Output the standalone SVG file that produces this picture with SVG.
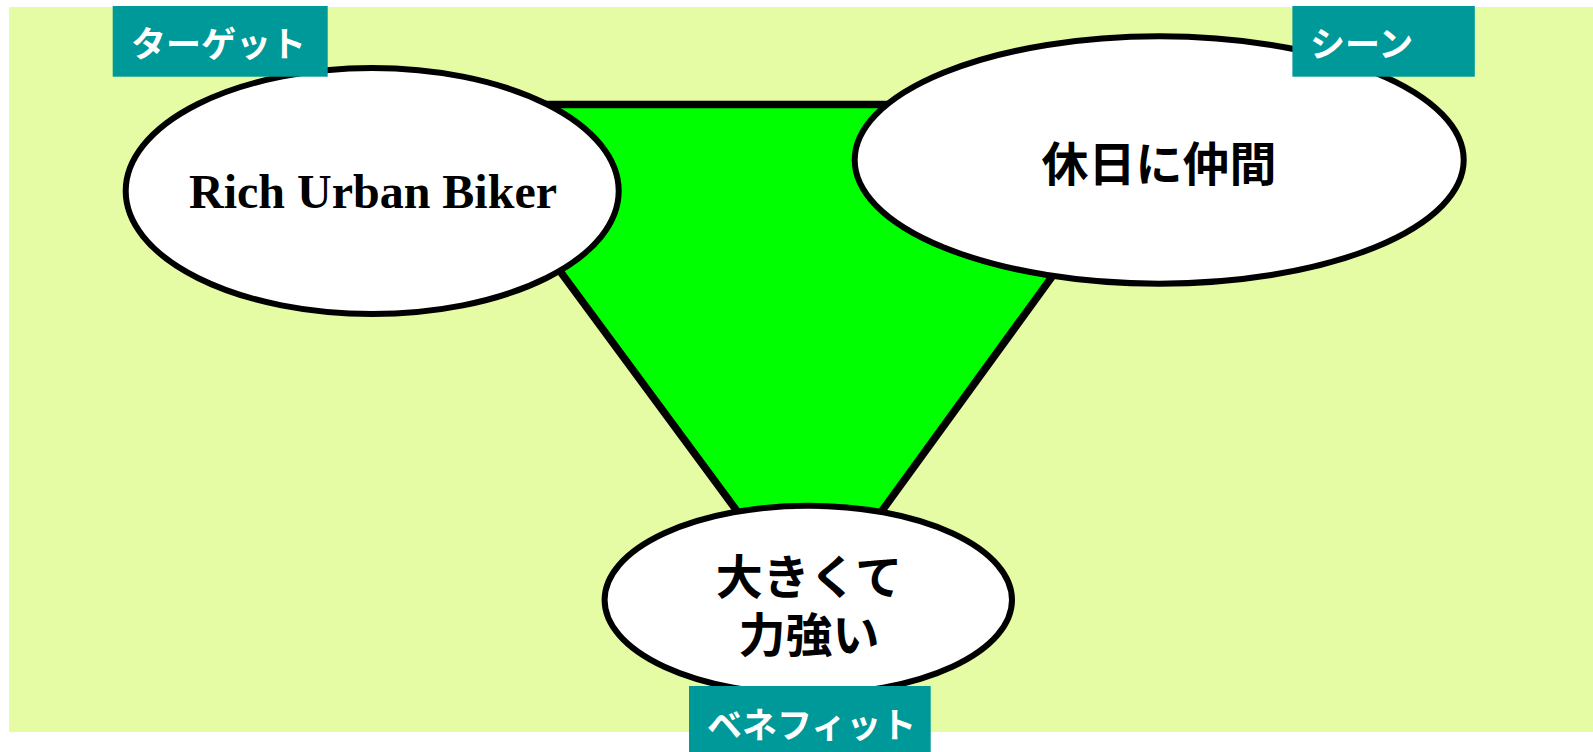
<svg xmlns="http://www.w3.org/2000/svg" width="1593" height="752" viewBox="0 0 1593 752">
  <style>
    .node { fill: #FFFFFF; stroke: #000000; stroke-width: 6; }
    .jp { font-family: "Noto Sans CJK JP", "Noto Sans", sans-serif; font-weight: bold; }
    .nodetext { fill: #000000; font-size: 47px; text-anchor: middle; }
    .label { fill: #009999; }
    .labeltext { fill: #FFFFFF; font-size: 35px; }
    .en { font-family: "Liberation Serif", "Times New Roman", serif; font-weight: bold; font-size: 48px; fill: #000000; text-anchor: middle; }
  </style>
  <rect id="background" x="9" y="7" width="1584" height="725" fill="#E5FCA4"/>
  <g id="connectors">
    <polygon points="437,104.5 1177,104.5 810,610" fill="#00FF00" stroke="#000000" stroke-width="7.5" stroke-linejoin="miter"/>
  </g>
  <g id="node-target">
    <ellipse class="node" cx="372.2" cy="191" rx="246.5" ry="123"/>
    <text class="en" x="373" y="208">Rich Urban Biker</text>
  </g>
  <g id="node-scene">
    <ellipse class="node" cx="1159.2" cy="160" rx="304.5" ry="123.7"/>
    <text class="jp nodetext" x="1159" y="181">休日に仲間</text>
  </g>
  <g id="node-benefit">
    <ellipse class="node" cx="808.3" cy="600" rx="203.7" ry="94.3"/>
    <text class="jp nodetext" font-size="46"><tspan x="809" y="594">大きくて</tspan><tspan x="809" y="652">力強い</tspan></text>
  </g>
  <g id="label-target">
    <rect class="label" x="112.7" y="6" width="215" height="70.7"/>
    <text class="jp labeltext" x="131" y="57">ターゲット</text>
  </g>
  <g id="label-scene">
    <rect class="label" x="1292.4" y="6" width="182.4" height="70.7"/>
    <text class="jp labeltext" x="1310" y="57">シーン</text>
  </g>
  <g id="label-benefit">
    <rect class="label" x="689" y="686" width="241.7" height="66"/>
    <text class="jp labeltext" x="707" y="738">ベネフィット</text>
  </g>
</svg>
